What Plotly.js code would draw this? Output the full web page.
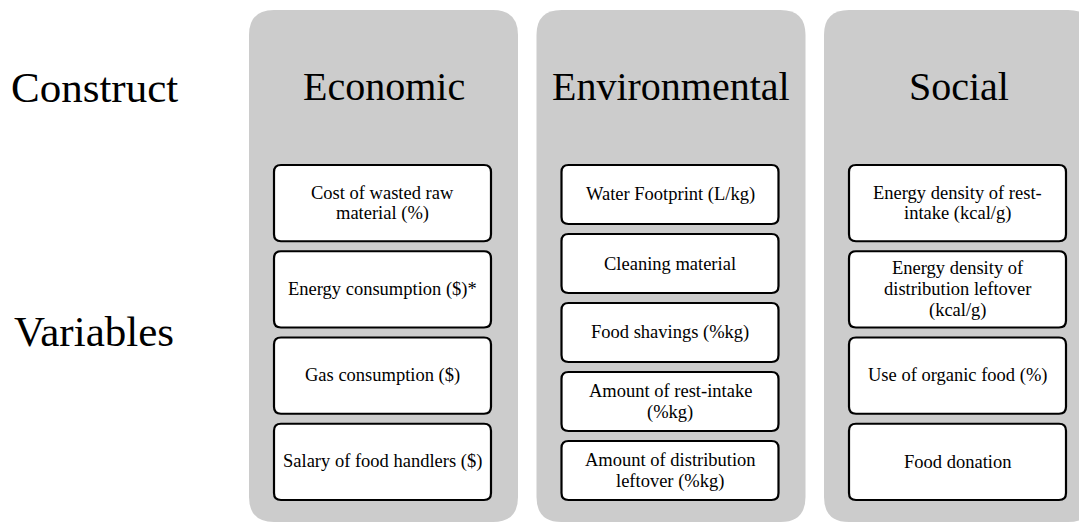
<!DOCTYPE html>
<html>
<head>
<meta charset="utf-8">
<script src="https://cdn.plot.ly/plotly-3.0.1.min.js"></script>
<style>html,body{margin:0;padding:0;background:#fff;}#chart{width:1079px;height:523px;}</style>
</head>
<body>
<div id="chart"></div>
<script>
// ---- data ----
const rowLabels = ["Construct", "Variables"];
const constructs = ["Economic", "Environmental", "Social"];
const economicVars = [
  "Cost of wasted raw\nmaterial (%)",
  "Energy consumption ($)*",
  "Gas consumption ($)",
  "Salary of food handlers ($)"
];
const environmentalVars = [
  "Water Footprint (L/kg)",
  "Cleaning material",
  "Food shavings (%kg)",
  "Amount of rest-intake\n(%kg)",
  "Amount of distribution\nleftover (%kg)"
];
const socialVars = [
  "Energy density of rest-\nintake (kcal/g)",
  "Energy density of\ndistribution leftover\n(kcal/g)",
  "Use of organic food (%)",
  "Food donation"
];
const variablesByConstruct = [economicVars, environmentalVars, socialVars];

// ---- layout constants ----
const W = 1079, H = 523;
const FONT = "Liberation Serif, Times New Roman, serif";
const panelLeft0 = 249, panelPitch = 287.5, panelW = 269, panelTop = 10, panelBottom = 522, panelR = 25;
const boxInset = 25, boxW = 217, boxTop = 165, boxBottom = 500, boxGap = 10, boxR = 7;
const headerY = 86, rowLabelX = 94, rowLabelYs = [87, 331];
const smallSize = 18.5, lineStep = 21;

function rr(x0, y0, x1, y1, r) {
  return `M${x0 + r},${y0} L${x1 - r},${y0} Q${x1},${y0} ${x1},${y0 + r} ` +
         `L${x1},${y1 - r} Q${x1},${y1} ${x1 - r},${y1} L${x0 + r},${y1} ` +
         `Q${x0},${y1} ${x0},${y1 - r} L${x0},${y0 + r} Q${x0},${y0} ${x0 + r},${y0} Z`;
}

const shapes = [];
const annotations = [];

rowLabels.forEach((t, i) => {
  annotations.push({
    x: rowLabelX, y: rowLabelYs[i], xref: 'x', yref: 'y', text: t, showarrow: false,
    xanchor: 'center', yanchor: 'middle', font: {family: FONT, size: 43, color: '#000'}
  });
});

constructs.forEach((c, ci) => {
  const px0 = panelLeft0 + ci * panelPitch;
  const px1 = px0 + panelW;
  shapes.push({type: 'path', xref: 'x', yref: 'y', path: rr(px0, panelTop, px1, panelBottom, panelR),
    fillcolor: '#cccccc', line: {width: 0}, layer: 'below'});
  annotations.push({
    x: (px0 + px1) / 2, y: headerY, xref: 'x', yref: 'y', text: c, showarrow: false,
    xanchor: 'center', yanchor: 'middle', font: {family: FONT, size: 40, color: '#000'}
  });
  const vars = variablesByConstruct[ci];
  const n = vars.length;
  const bh = (boxBottom - boxTop - (n - 1) * boxGap) / n;
  const bx0 = px0 + boxInset, bx1 = bx0 + boxW;
  vars.forEach((v, vi) => {
    const by0 = boxTop + vi * (bh + boxGap);
    const by1 = by0 + bh;
    shapes.push({type: 'path', xref: 'x', yref: 'y', path: rr(bx0, by0, bx1, by1, boxR),
      fillcolor: '#ffffff', line: {color: '#000', width: 2.2}, layer: 'above'});
    const lines = v.split('\n');
    const k = lines.length;
    lines.forEach((ln, li) => {
      annotations.push({
        x: (bx0 + bx1) / 2, y: (by0 + by1) / 2 + (li - (k - 1) / 2) * lineStep, xref: 'x', yref: 'y',
        text: ln, showarrow: false,
        xanchor: 'center', yanchor: 'middle', align: 'center',
        font: {family: FONT, size: smallSize, color: '#000'}
      });
    });
  });
});

const layout = {
  width: W, height: H,
  margin: {l: 0, r: 0, t: 0, b: 0, pad: 0},
  paper_bgcolor: '#ffffff', plot_bgcolor: '#ffffff',
  xaxis: {range: [0, W], visible: false, fixedrange: true},
  yaxis: {range: [H, 0], visible: false, fixedrange: true},
  showlegend: false,
  shapes: shapes,
  annotations: annotations
};

Plotly.newPlot('chart', [{x: [], y: [], type: 'scatter', mode: 'markers', hoverinfo: 'skip'}], layout,
  {displayModeBar: false, staticPlot: true});
</script>
</body>
</html>
